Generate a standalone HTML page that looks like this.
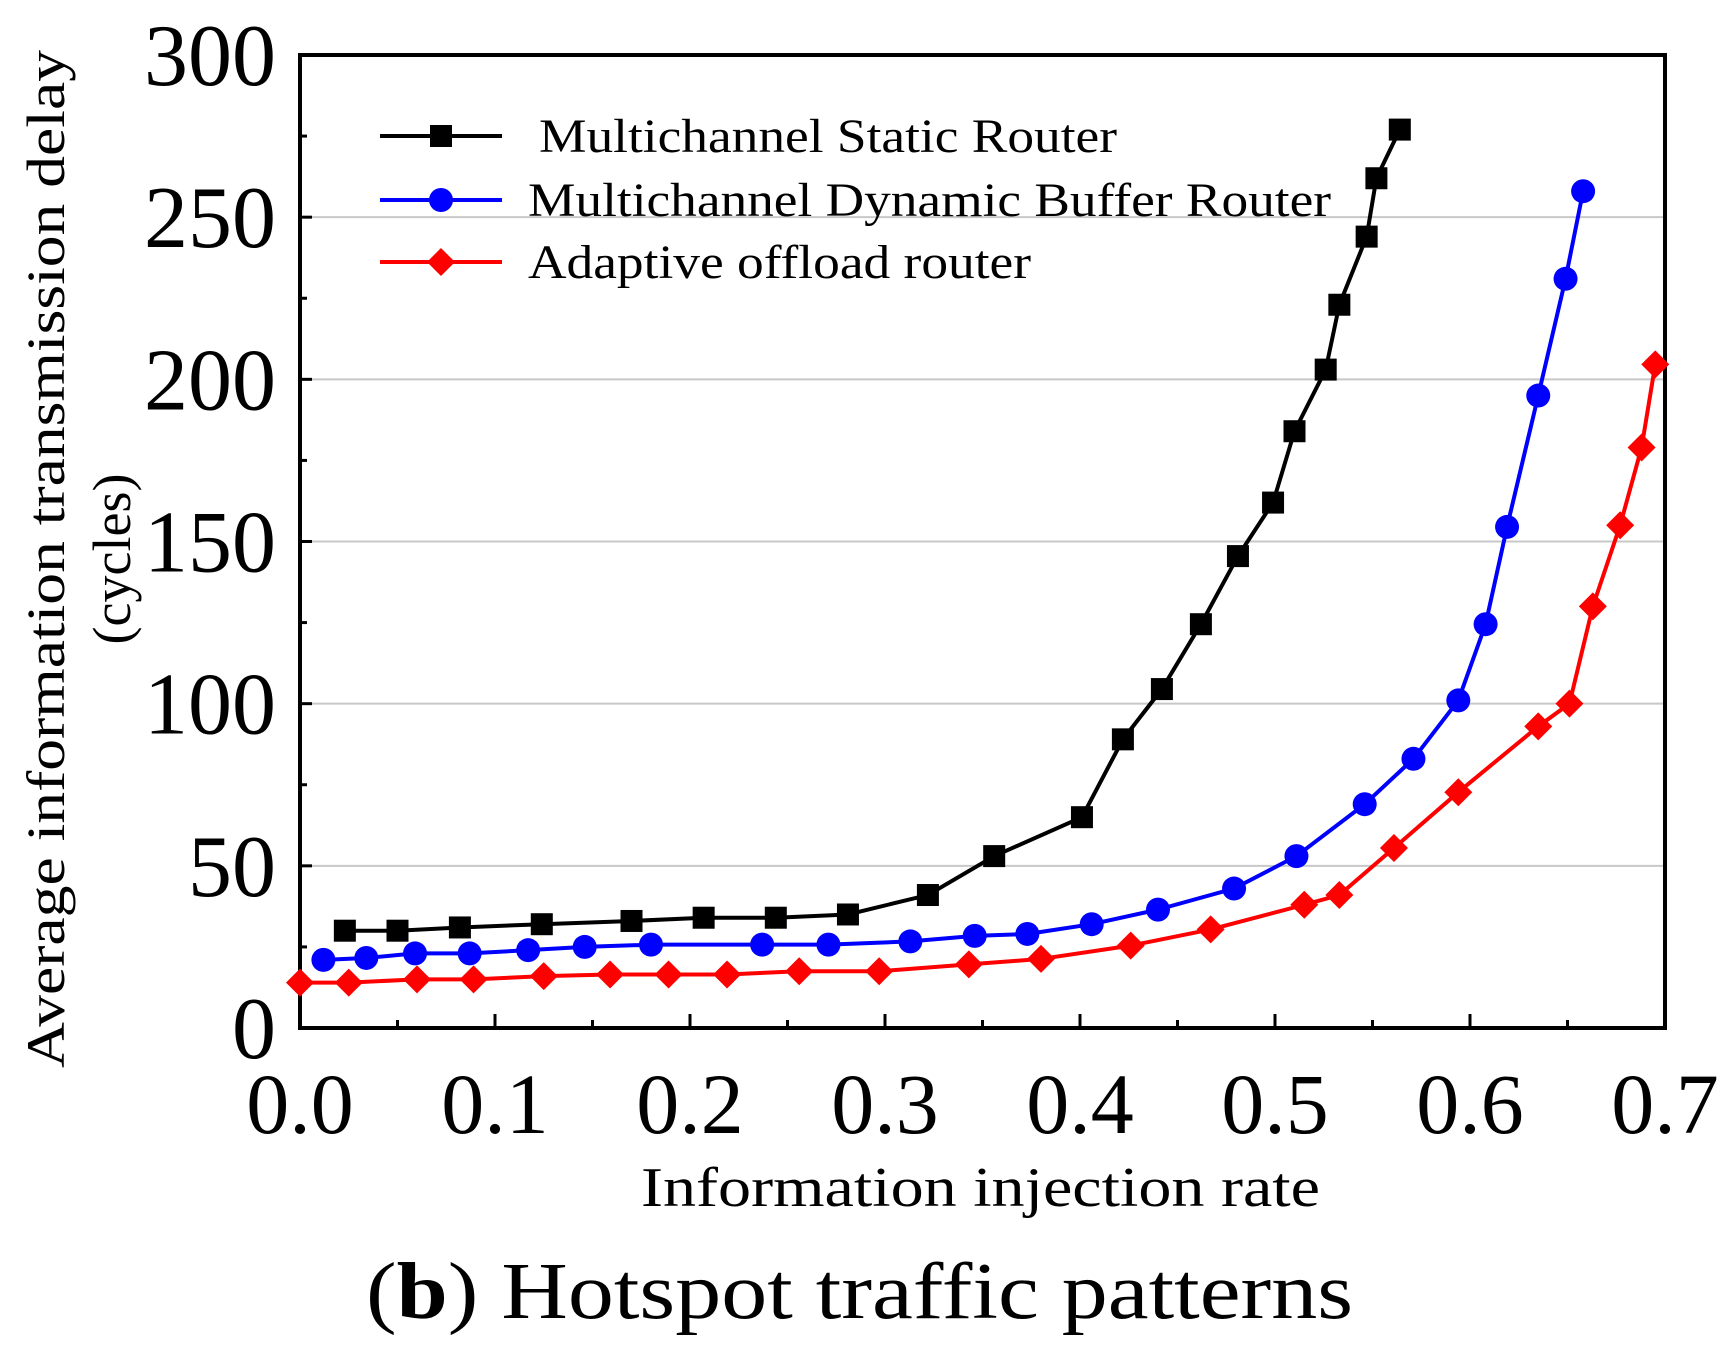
<!DOCTYPE html>
<html><head><meta charset="utf-8"><style>body{margin:0;background:#fff}svg{display:block}</style></head>
<body>
<svg id="chart" width="1725" height="1354" viewBox="0 0 1725 1354" xmlns="http://www.w3.org/2000/svg" font-family="'Liberation Serif', serif">
<g id="grid"></g><g id="axes"></g><g id="series"></g><g id="legend"></g>
<text transform="translate(64,559) rotate(-90)" text-anchor="middle" font-size="54" textLength="1018" lengthAdjust="spacingAndGlyphs">Average information transmission delay</text>
<text transform="translate(130,559) rotate(-90)" text-anchor="middle" font-size="54">(cycles)</text>
<text x="641" y="1206" font-size="56" textLength="679" lengthAdjust="spacingAndGlyphs">Information injection rate</text>
<text x="366" y="1318" font-size="80" textLength="987" lengthAdjust="spacingAndGlyphs">(<tspan font-weight="bold">b</tspan>) Hotspot traffic patterns</text>
</svg>
<script>
const xTicks=[0,0.1,0.2,0.3,0.4,0.5,0.6,0.7];
const xTickLabels=["0.0","0.1","0.2","0.3","0.4","0.5","0.6","0.7"];
const yTicks=[0,50,100,150,200,250,300];
const yTickLabels=["0","50","100","150","200","250","300"];
const seriesNames=["Multichannel Static Router","Multichannel Dynamic Buffer Router","Adaptive offload router"];
const staticX=[.023,.05,.082,.124,.17,.207,.244,.281,.322,.356,.401,.422,.442,.462,.481,.499,.51,.526,.533,.547,.552,.564];
const staticY=[30,30,31,32,33,34,34,35,41,53,65,89,104.5,124.5,145.5,162,184,203,223,244,262,277];
const dynX=[.012,.034,.059,.087,.117,.146,.18,.237,.271,.313,.346,.373,.406,.44,.479,.511,.546,.571,.594,.608,.619,.635,.649,.658];
const dynY=[21,21.6,23,23,24,25,25.7,25.7,25.7,26.7,28.4,29,32,36.5,43,53,69,83,101,124.5,154.5,195,231,258];
const adX=[0,.025,.06,.089,.125,.159,.189,.219,.256,.297,.343,.38,.426,.467,.515,.533,.561,.594,.635,.651,.663,.677,.688,.695];
const adY=[14,14,15,15,16,16.5,16.5,16.5,17.5,17.5,19.6,21.3,25.4,30.4,38,41,55.5,72.7,93,100,130,155,179,204.6];

const L=300,R=1665,T=55,B=1028;
const sx=v=>L+v/0.7*(R-L), sy=v=>B-v/300*(B-T);
const NS="http://www.w3.org/2000/svg";
function mk(tag,attrs,parent){const e=document.createElementNS(NS,tag);for(const k in attrs)e.setAttribute(k,attrs[k]);parent.appendChild(e);return e;}
const grid=document.getElementById('grid'),axes=document.getElementById('axes'),ser=document.getElementById('series'),leg=document.getElementById('legend');
yTicks.forEach((v,i)=>{
  if(v>0&&v<300){const g=mk('line',{x1:L,x2:R,y1:sy(v),y2:sy(v),stroke:'#c8c8c8','stroke-width':2},grid);
  
  }
  const t=mk('text',{x:L-24,y:sy(v)+30,'text-anchor':'end','font-size':88},axes);t.textContent=yTickLabels[i];
  
  
  const tk=mk('line',{x1:L,x2:L+12,y1:sy(v),y2:sy(v),stroke:'#000','stroke-width':3},axes);
  
  
  if(i<yTicks.length-1){const m=mk('line',{x1:L,x2:L+7,y1:sy(v+25),y2:sy(v+25),stroke:'#000','stroke-width':3},axes);
  
  }
});
xTicks.forEach((v,i)=>{
  const t=mk('text',{x:sx(v),y:B+105,'text-anchor':'middle','font-size':86},axes);t.textContent=xTickLabels[i];
  
  
  const tk=mk('line',{x1:sx(v),x2:sx(v),y1:B,y2:B-14,stroke:'#000','stroke-width':3},axes);
  
  
  if(i<xTicks.length-1){const m=mk('line',{x1:sx(v+0.05),x2:sx(v+0.05),y1:B,y2:B-8,stroke:'#000','stroke-width':3},axes);
  
  }
});
const frame=mk('rect',{x:L,y:T,width:R-L,height:B-T,fill:'none',stroke:'#000','stroke-width':4},axes);



function marker(kind,x,y,color,parent){
  let e;
  if(kind==='square')e=mk('rect',{x:x-11,y:y-11,width:22,height:22,fill:color},parent);
  else if(kind==='circle')e=mk('circle',{cx:x,cy:y,r:12,fill:color},parent);
  else e=mk('polygon',{points:`${x},${y-14} ${x+14},${y} ${x},${y+14} ${x-14},${y}`,fill:color},parent);
  return e;
}
const defs=[[staticX,staticY,'#000','square','static-router'],[dynX,dynY,'#0000ff','circle','dynamic-buffer-router'],[adX,adY,'#ff0000','diamond','adaptive-offload-router']];
defs.forEach(([xs,ys,c,k,n])=>{
  const g=mk('g',{},ser);
  
  
  const p=mk('polyline',{points:xs.map((x,i)=>sx(x)+','+sy(ys[i])).join(' '),fill:'none',stroke:c,'stroke-width':4},g);
  
  
  xs.forEach((x,i)=>{const m=marker(k,sx(x),sy(ys[i]),c,g);
    
    });
});
const legY=[136,200,262],legTX=[539,528,528],legLen=[578,803,503];
defs.forEach(([xs,ys,c,k,n],i)=>{
  const g=mk('g',{},leg);
  
  
  mk('line',{x1:380,x2:502,y1:legY[i],y2:legY[i],stroke:c,'stroke-width':4},g);
  marker(k,441,legY[i],c,g);
  const t=mk('text',{x:legTX[i],y:legY[i]+16,'font-size':48,textLength:legLen[i],lengthAdjust:'spacingAndGlyphs'},g);
  t.textContent=seriesNames[i];
});
</script>
</body></html>
